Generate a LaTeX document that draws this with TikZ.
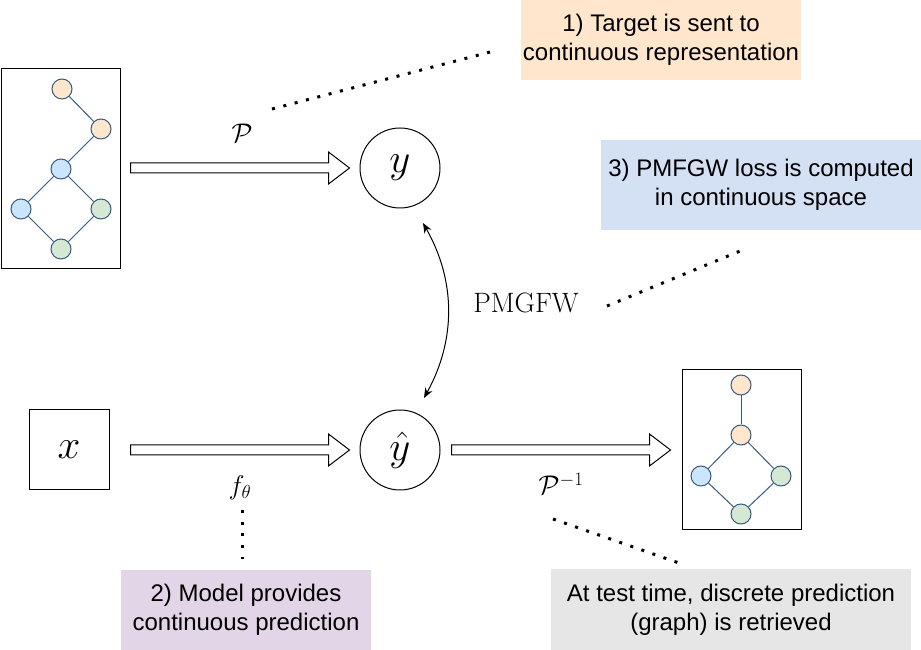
\RequirePackage{fix-cm}
\documentclass[tikz,border=0pt]{standalone}
\usepackage{amsmath}
\usepackage{amssymb}
\usepackage{fontspec}
\usepackage{tikz}
\usetikzlibrary{calc, positioning, arrows.meta}
\newfontfamily\arialfont{Liberation Sans}
\definecolor{peach}{HTML}{FFE6CC}
\definecolor{skyblue}{HTML}{CCE5FF}
\definecolor{mint}{HTML}{D5E8D4}
\definecolor{edgeblue}{HTML}{36597F}
\definecolor{notebl}{HTML}{D4E1F5}
\definecolor{notepu}{HTML}{E1D5E7}
\definecolor{notegr}{HTML}{E6E6E6}
% hollow block arrow between two coordinates
\newcommand{\fatarrow}[2]{%
  \draw[line width=1pt, fill=white] let \p1=(#1), \p2=(#2) in
    (\x1,\y1+5) -- (\x2-21,\y1+5) -- (\x2-21,\y1+16) -- (\x2,\y1)
    -- (\x2-21,\y1-16) -- (\x2-21,\y1-5) -- (\x1,\y1-5) -- cycle;}

\begin{document}
\begin{tikzpicture}[x=1pt, y=1pt, node distance=20pt,
    gnode/.style={circle, draw=edgeblue, line width=1pt, minimum size=20pt, inner sep=0pt},
    gedge/.style={draw=edgeblue, line width=1pt},
    mcirc/.style={circle, draw, line width=1pt, minimum size=80pt, inner sep=0pt, font=\fontsize{41}{45}\selectfont},
    lbl/.style={font=\fontsize{27}{30}\selectfont},
    dots/.style={line width=3pt, dash pattern=on 3pt off 8.7pt},
    cbox/.style={inner sep=0pt, align=center, font=\arialfont\fontsize{24}{29}\selectfont}]
    \useasboundingbox (0,0) rectangle (921,650);

    % continuous target and prediction
    \node[mcirc] (y) at (400,482) {$y$};
    \node[mcirc, below=201pt of y] (yhat) {$\hat{y}$};
    \node[draw, line width=1pt, minimum size=80pt, inner sep=0pt, font=\fontsize{41}{45}\selectfont, left=250pt of yhat] (xin) {$x$};

    % target graph
    \node[draw, line width=1pt, minimum width=119pt, minimum height=200pt, inner sep=0pt] (lgraph) at (60.5,481) {};
    \node[gnode, fill=peach] (ln1) at (62,561) {};
    \node[gnode, fill=peach] (ln2) at (101,521) {};
    \node[gnode, fill=skyblue] (ln3) at (61,481) {};
    \node[gnode, fill=skyblue] (ln4) at (21,441) {};
    \node[gnode, fill=mint] (ln5) at (101,441) {};
    \node[gnode, fill=mint] (ln6) at (61,401) {};
    \foreach \a/\b in {ln1/ln2, ln2/ln3, ln3/ln4, ln3/ln5, ln4/ln6, ln5/ln6}
        \draw[gedge] (\a) -- (\b);

    % retrieved graph
    \node[draw, line width=1pt, minimum width=119pt, minimum height=160pt, inner sep=0pt, right=241pt of yhat] (rgraph) {};
    \node[gnode, fill=peach] (rn1) at (741,265) {};
    \node[gnode, fill=peach] (rn2) at (741,215) {};
    \node[gnode, fill=skyblue] (rn3) at (701,174) {};
    \node[gnode, fill=mint] (rn4) at (781,174) {};
    \node[gnode, fill=mint] (rn5) at (741,136) {};
    \foreach \a/\b in {rn1/rn2, rn2/rn3, rn2/rn4, rn3/rn5, rn4/rn5}
        \draw[gedge] (\a) -- (\b);

    % block arrows
    \coordinate (pS) at ($(y.west)+(-229,0)$);
    \coordinate (pE) at ($(y.west)+(-10,0)$);
    \coordinate (fS) at ($(xin.east)+(21,0)$);
    \coordinate (fE) at ($(yhat.west)+(-10,0)$);
    \coordinate (iS) at ($(yhat.east)+(11,0)$);
    \coordinate (iE) at ($(rgraph.west)+(-11,0)$);
    \fatarrow{pS}{pE}
    \fatarrow{fS}{fE}
    \fatarrow{iS}{iE}
    \node[lbl] (plab) at (242,517) {$\mathcal{P}$};
    \node[lbl] (flab) at (240,162) {$f_\theta$};
    \node[lbl] (pinv) at (561,166) {$\mathcal{P}^{-1}$};

    % loss between y and yhat
    \coordinate (lossA) at ($(y.center)+(23,-55)$);
    \coordinate (lossB) at ($(yhat.center)+(24,52)$);
    \draw[{Stealth[length=10pt,width=8pt]}-{Stealth[length=10pt,width=8pt]}, line width=1pt]
        (lossA) .. controls +(33,-58) and +(32,58) .. (lossB);
    \node[font=\fontsize{28}{32}\selectfont] (lossname) at (526,347) {PMGFW};

    % notes
    \node[cbox, fill=peach, minimum width=280pt, minimum height=80pt] (note1) at (661,610) {1) Target is sent to\\continuous representation};
    \node[cbox, fill=notebl, minimum width=320pt, minimum height=90pt] (note3) at (761,465) {3) PMFGW loss is computed\\in continuous space};
    \node[cbox, fill=notepu, minimum width=250pt, minimum height=80pt] (note2) at (246,40) {2) Model provides\\continuous prediction};
    \node[cbox, fill=notegr, minimum width=360pt, minimum height=81pt] (note4) at (731,40.5) {At test time, discrete prediction\\(graph) is retrieved};

    % dotted pointers
    \coordinate (d1a) at (272,541);
    \coordinate (d1b) at (494,599);
    \coordinate (d2a) at (242,140);
    \coordinate (d2b) at (242,91);
    \coordinate (d3a) at (607,344);
    \coordinate (d3b) at (745,401);
    \coordinate (d4a) at (553,131);
    \coordinate (d4b) at (679,87);
    \draw[dots] (d1a) -- (d1b);
    \draw[dots] (d2a) -- (d2b);
    \draw[dots] (d3a) -- (d3b);
    \draw[dots] (d4a) -- (d4b);
\end{tikzpicture}
\end{document}
